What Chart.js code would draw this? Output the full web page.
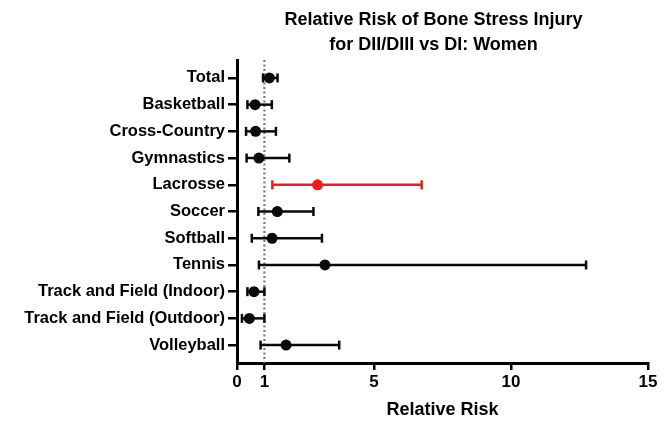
<!DOCTYPE html>
<html>
<head>
<meta charset="utf-8">
<script src="https://cdn.jsdelivr.net/npm/chart.js@4.4.1/dist/chart.umd.min.js"></script>
<style>
  html, body { margin: 0; padding: 0; background: #ffffff; }
  #wrap { width: 672px; height: 421px; }
</style>
</head>
<body>
<div id="wrap"><canvas id="c" width="672" height="421"></canvas></div>
<script>
// ---- Data ----
const categories = ['Total', 'Basketball', 'Cross-Country', 'Gymnastics', 'Lacrosse', 'Soccer',
  'Softball', 'Tennis', 'Track and Field (Indoor)', 'Track and Field (Outdoor)', 'Volleyball'];
const relativeRisk = [1.18, 0.66, 0.68, 0.80, 2.94, 1.47, 1.28, 3.21, 0.62, 0.45, 1.79];
const ciLower      = [0.95, 0.38, 0.33, 0.35, 1.29, 0.78, 0.54, 0.80, 0.38, 0.18, 0.86];
const ciUpper      = [1.48, 1.27, 1.42, 1.91, 6.74, 2.79, 3.10, 12.74, 1.00, 1.00, 3.73];
const xTickValues  = [0, 1, 5, 10, 15];
const referenceValue = 1;
const highlighted = 'Lacrosse';

// ---- Styling ----
const FONT = "'Liberation Sans', Arial, Helvetica, sans-serif";
const BLACK = '#0a0a0a';
const RED = '#f21b1b';
const TITLE_SHIFT = -9;
const yMin = -0.67, yMax = categories.length - 1 + 0.67;
const colorFor = (name) => name === highlighted ? RED : BLACK;

const datasets = [];

// points
datasets.push({
  type: 'scatter',
  order: 0,
  data: categories.map((c, i) => ({ x: relativeRisk[i], y: i })),
  pointRadius: 5.5,
  pointHoverRadius: 5.5,
  pointBackgroundColor: categories.map(colorFor),
  pointBorderColor: categories.map(colorFor),
  pointBorderWidth: 0
});

// confidence intervals with caps
categories.forEach((c, i) => {
  const col = colorFor(c);
  datasets.push({
    type: 'line',
    order: 1,
    data: [{ x: ciLower[i], y: i }, { x: ciUpper[i], y: i }],
    borderColor: col,
    borderWidth: 2.5,
    pointStyle: 'line',
    pointRotation: 90,
    pointRadius: 4.5,
    pointHoverRadius: 4.5,
    pointBorderColor: col,
    pointBorderWidth: 2.5,
    fill: false
  });
});

// reference line at RR = 1
datasets.push({
  type: 'line',
  order: 2,
  data: [{ x: referenceValue, y: yMin }, { x: referenceValue, y: yMax }],
  borderColor: '#7a7a7a',
  borderWidth: 2.2,
  borderDash: [2, 2.5],
  pointRadius: 0,
  fill: false
});

const titleShiftPlugin = {
  id: 'titleShift',
  afterLayout(chart) {
    const t = chart.titleBlock;
    if (t) { t.left += TITLE_SHIFT; t.right += TITLE_SHIFT; }
  }
};

new Chart(document.getElementById('c'), {
  type: 'scatter',
  data: { datasets },
  plugins: [titleShiftPlugin],
  options: {
    responsive: false,
    devicePixelRatio: 1,
    animation: false,
    layout: { padding: { left: 0, right: 24, top: 0, bottom: 0 } },
    plugins: {
      legend: { display: false },
      tooltip: { enabled: false },
      title: {
        display: true,
        fullSize: false,
        text: ['Relative Risk of Bone Stress Injury', 'for DII/DIII vs DI: Women'],
        color: '#000',
        font: { family: FONT, size: 18, weight: 'bold', lineHeight: 1.39 },
        padding: { top: 8, bottom: 2 }
      }
    },
    scales: {
      x: {
        type: 'linear',
        min: 0,
        max: 15,
        afterBuildTicks: (s) => { s.ticks = xTickValues.map(v => ({ value: v })); },
        afterFit: (s) => { s.height = 58; },
        grid: { display: true, drawOnChartArea: false, drawTicks: true, tickLength: 7, color: '#000', lineWidth: 2.5 },
        border: { display: true, color: '#000', width: 3 },
        ticks: { color: '#000', padding: 2, font: { family: FONT, size: 17, weight: 'bold' } },
        title: {
          display: true,
          text: 'Relative Risk',
          color: '#000',
          font: { family: FONT, size: 18, weight: 'bold' },
          padding: { top: 0, bottom: 0 }
        }
      },
      y: {
        type: 'linear',
        min: yMin,
        max: yMax,
        reverse: true,
        afterBuildTicks: (s) => { s.ticks = categories.map((c, i) => ({ value: i })); },
        afterFit: (s) => { s.width = 237; },
        grid: { display: true, drawOnChartArea: false, drawTicks: true, tickLength: 9, color: '#000', lineWidth: 2.5 },
        border: { display: true, color: '#000', width: 3 },
        ticks: {
          autoSkip: false,
          color: '#000',
          padding: 3,
          font: { family: FONT, size: 16.5, weight: 'bold' },
          callback: (v) => categories[v]
        }
      }
    }
  }
});
</script>
</body>
</html>
